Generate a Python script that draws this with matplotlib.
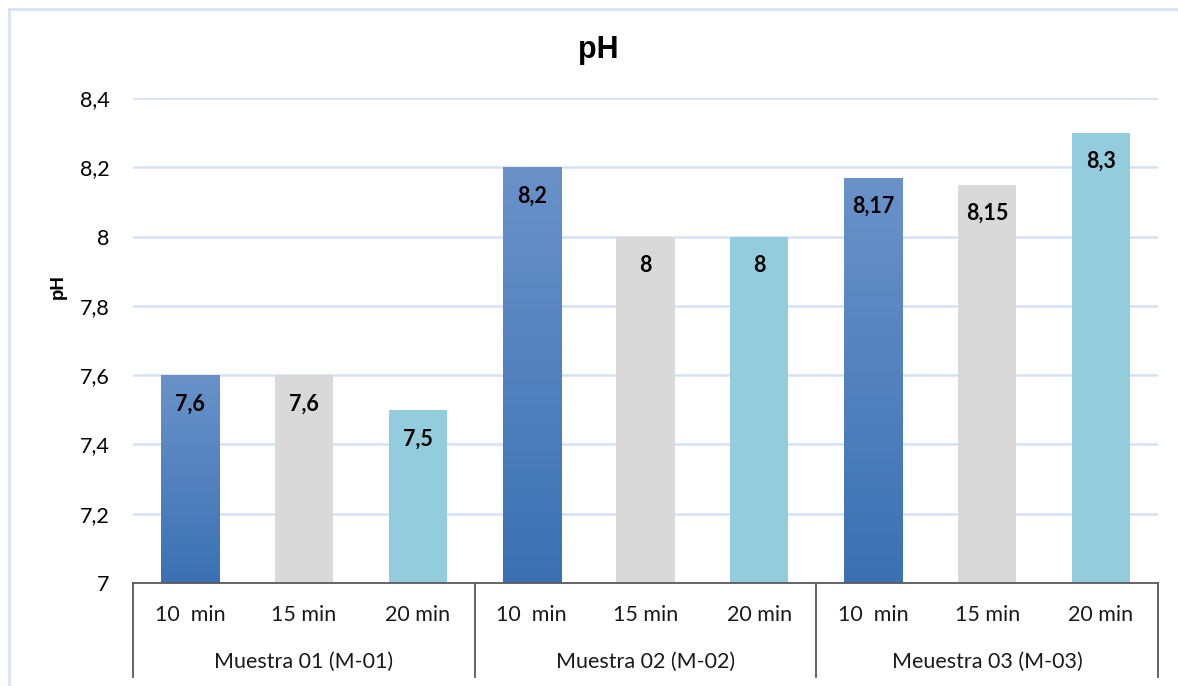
import numpy as np
import matplotlib
matplotlib.use("Agg")
import matplotlib.pyplot as plt
from matplotlib.colors import LinearSegmentedColormap
from matplotlib.lines import Line2D

# Data
groups = ["Muestra 01 (M-01)", "Muestra 02 (M-02)", "Meuestra 03 (M-03)"]
times = ["10  min", "15 min", "20 min"]
ph_10 = [7.6, 8.2, 8.17]
ph_15 = [7.6, 8.0, 8.15]
ph_20 = [7.5, 8.0, 8.3]
y_ticks = [7.0, 7.2, 7.4, 7.6, 7.8, 8.0, 8.2, 8.4]

BODY_FONT = ["Lato", "DejaVu Sans"]
HEAD_FONT = ["Liberation Sans", "DejaVu Sans"]
FS = 15.5

fig = plt.figure(figsize=(11.78, 6.86), dpi=100)
W, H = 1178, 686
ax = fig.add_axes([133 / W, 1 - 583 / H, (1158 - 133) / W, (583 - 98) / H])

n_groups = len(groups)
n_times = len(times)
series = [ph_10, ph_15, ph_20]
colors = ["#5283c2", "#d9d9d9", "#93cddd"]
bar_w = 0.51

positions = []
values = []
kinds = []
for g in range(n_groups):
    for t in range(n_times):
        positions.append(g * n_times + t)
        values.append(series[t][g])
        kinds.append(t)

bars = ax.bar(positions, [v - y_ticks[0] for v in values], bottom=y_ticks[0],
              width=bar_w, color=[colors[k] for k in kinds], zorder=2,
              linewidth=0)

# Vertical gradient fill for the 10 min bars
grad = LinearSegmentedColormap.from_list("blue_grad", ["#3b71b3", "#6a92c9"])
for rect, k in zip(bars, kinds):
    if k != 0:
        continue
    x0 = rect.get_x()
    y0 = rect.get_y()
    img = ax.imshow(np.linspace(0, 1, 256).reshape(-1, 1), cmap=grad,
                    origin="lower", aspect="auto",
                    extent=(x0, x0 + rect.get_width(), y0, y0 + rect.get_height()),
                    zorder=2.1, interpolation="bilinear")
    img.set_clip_path(rect)
ax.set_xlim(-0.5, n_groups * n_times - 0.5)
ax.set_ylim(y_ticks[0], y_ticks[-1])

# Value labels inside the top of each bar
for x, v in zip(positions, values):
    txt = f"{v:g}".replace(".", ",")
    ax.annotate(txt, (x, v), xytext=(0, -29), textcoords="offset pixels",
                ha="center", va="center", fontsize=FS, fontweight="bold",
                family=BODY_FONT, color="black", zorder=3)

# Grid and axes
ax.set_yticks(y_ticks)
ax.set_yticklabels([f"{t:g}".replace(".", ",") for t in y_ticks],
                   family=BODY_FONT, fontsize=FS)
ax.tick_params(axis="y", length=0, pad=17)
ax.yaxis.grid(True, color="#d5e2f3", linewidth=1.8, zorder=0)
ax.set_axisbelow(True)
ax.set_xticks([])
for s in ["top", "right", "left"]:
    ax.spines[s].set_visible(False)
ax.spines["bottom"].set_color("#595959")
ax.spines["bottom"].set_linewidth(1.3)
ax.spines["bottom"].set_zorder(4)

# Two-level category axis
trans = ax.get_xaxis_transform()
for x, k in zip(positions, kinds):
    ax.text(x, -0.066, times[k], transform=trans, ha="center", va="center",
            fontsize=FS, family=BODY_FONT, color="#1a1a1a")
for g in range(n_groups):
    center = g * n_times + (n_times - 1) / 2
    ax.text(center, -0.163, groups[g], transform=trans, ha="center",
            va="center", fontsize=FS, family=BODY_FONT, color="#1a1a1a")
for b in range(n_groups + 1):
    xb = b * n_times - 0.5
    ax.add_line(Line2D([xb, xb], [0, -0.194], transform=trans, color="#595959",
                       linewidth=1.3, clip_on=False))

# Titles
fig.text(598 / W, 1 - 50 / H, "pH", ha="center", va="center", fontsize=22,
         fontweight="bold", family=HEAD_FONT)
fig.text(58 / W, 1 - 287 / H, "pH", ha="center", va="center", fontsize=13.5,
         fontweight="bold", family=HEAD_FONT, rotation=90)

# Chart area border
fig.add_artist(Line2D([9 / W, 9 / W], [0, 1 - 9 / H], transform=fig.transFigure,
                      color="#d6e2f3", linewidth=2))
fig.add_artist(Line2D([9 / W, 1], [1 - 9 / H, 1 - 9 / H], transform=fig.transFigure,
                      color="#d6e2f3", linewidth=2))

fig.savefig("out.png", dpi=100)
